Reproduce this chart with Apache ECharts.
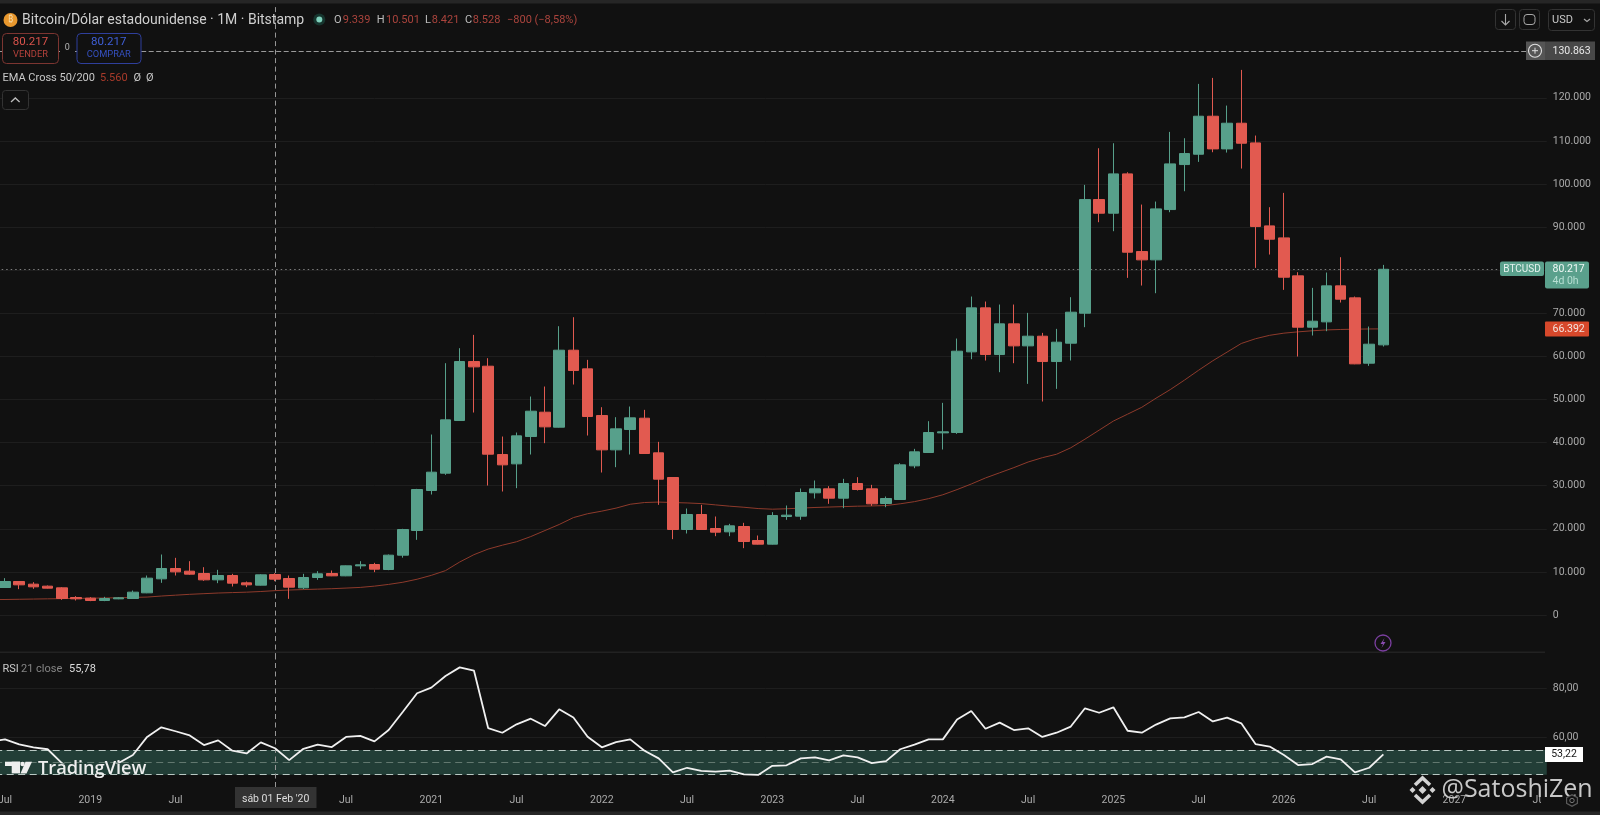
<!DOCTYPE html>
<html><head><meta charset="utf-8">
<style>html,body{margin:0;padding:0;background:#111;overflow:hidden;width:1600px;height:815px;position:relative}#c{position:absolute;left:-17px;top:0;width:1617px;height:815px}</style>
<script src="https://cdn.jsdelivr.net/npm/echarts@6/dist/echarts.min.js"></script>
</head><body><div id="c"></div>
<script>
const categories = ["2018-06",
"2018-07","2018-08","2018-09","2018-10","2018-11","2018-12",
"2019-01","2019-02","2019-03","2019-04","2019-05","2019-06","2019-07","2019-08","2019-09","2019-10","2019-11","2019-12",
"2020-01","2020-02","2020-03","2020-04","2020-05","2020-06","2020-07","2020-08","2020-09","2020-10","2020-11","2020-12",
"2021-01","2021-02","2021-03","2021-04","2021-05","2021-06","2021-07","2021-08","2021-09","2021-10","2021-11","2021-12",
"2022-01","2022-02","2022-03","2022-04","2022-05","2022-06","2022-07","2022-08","2022-09","2022-10","2022-11","2022-12",
"2023-01","2023-02","2023-03","2023-04","2023-05","2023-06","2023-07","2023-08","2023-09","2023-10","2023-11","2023-12",
"2024-01","2024-02","2024-03","2024-04","2024-05","2024-06","2024-07","2024-08","2024-09","2024-10","2024-11","2024-12",
"2025-01","2025-02","2025-03","2025-04","2025-05","2025-06","2025-07","2025-08","2025-09","2025-10","2025-11","2025-12",
"2026-01","2026-02","2026-03","2026-04","2026-05","2026-06","2026-07","2026-08","2026-09","2026-10","2026-11","2026-12",
"2027-01","2027-02","2027-03","2027-04","2027-05","2027-06","2027-07"];
const opens = [null,
6381,7772,7154,6690,6303,4061,3906,3365,3752,3829,
5143,8391,10788,10170,9629,8159,9164,7463,6922,9396,
8469,6303,8701,9629,9087,11407,11716,10556,13881,19606,
28886,32907,45125,58813,57730,37237,35072,41413,47058,43578,
61442,57111,46285,38320,43037,45666,37624,31902,19838,23319,
20071,19297,20534,17286,16436,22855,22932,28345,29273,27107,
30510,29273,25871,26798,34608,37702,42265,42342,61055,71263,
60436,67551,62447,64690,58813,63068,70027,96397,93227,102352,
84335,82401,94077,104517,106914,115730,108152,114106,109544,90288,
87505,78688,66780,68017,76369,73586,58428,62679];
const closes = [null,
7772,7000,6535,6226,3829,3752,3365,3829,3983,5298,
8546,10788,10015,9474,8159,9164,7386,7000,9319,8314,
6458,8701,9551,9087,11407,11639,10634,13881,19838,29118,
33139,45280,58813,57575,37315,34840,41568,47290,43656,61442,
56725,46053,38320,43192,45744,37470,31515,19838,23319,19838,
19219,20689,17054,16436,23086,23164,28422,29273,27107,30510,
29118,25793,27030,34841,37856,42342,42497,61210,71263,60436,
67551,62447,64690,58813,63298,70260,96397,93227,102352,84180,
82401,94232,104672,107069,115730,108152,114106,109466,90134,87195,
78379,66780,68172,76369,73277,58274,62835,80217];
const lows = [null,
6303,5994,6071,6148,3520,3365,3210,3210,3674,3752,
5066,7463,9164,9319,7927,7386,6612,6458,6845,7850,
3752,5994,8159,9010,9010,10711,9938,10402,13300,17441,
27958,32520,45048,46981,30046,28654,29427,37237,39867,43500,
53477,41645,33062,34299,37237,37392,25561,17596,18910,19760,
18291,18291,15508,16358,16358,22081,22081,27030,25793,24788,
28886,25329,25019,26721,34067,37625,38398,42033,59354,59045,
56338,58426,53632,49533,52472,59047,66780,91140,89050,78225,
76446,74667,93459,98330,105136,107378,107301,103589,80545,83637,
75440,59975,64847,65852,72503,58196,57810,62293];
const highs = [null,
8546,7850,7618,6845,6458,4370,4138,4215,4138,5685,
9164,14036,13263,12490,11098,10479,9551,7772,9474,9706,
9164,9551,10170,10324,11485,12490,12103,14036,20000,29272,
41877,58426,61906,64999,59586,41413,42341,50693,53013,67010,
69097,59199,48218,45898,48373,47600,40176,31979,24710,25561,
22853,21153,21385,18446,23860,25406,29350,31206,29893,31593,
31979,30200,27494,35228,38553,44970,49224,64149,73892,72732,
72036,72036,70103,65463,66391,73740,99800,108307,109466,102738,
95237,95933,112095,110626,123231,124623,118204,126479,111245,94619,
97944,79540,75905,79462,83019,73895,66935,81239];
const ema50 = [3570,
3600,3650,3700,3750,3800,3850,3900,3950,4000,4080,
4160,4400,4600,4800,4950,5100,5200,5300,5450,5650,
5800,5900,6000,6100,6250,6400,6700,7100,7600,8300,
9200,10300,12300,14000,15300,16200,17000,18200,19600,21000,
22600,23500,24100,24800,25700,26100,26200,26100,26000,25850,
25550,25250,25000,24700,24550,24650,24800,24950,25050,25150,
25250,25300,25400,25800,26300,27000,27900,29100,30400,31800,
33000,34200,35500,36500,37300,38800,40800,42900,45000,46600,
48200,50300,52300,54500,56800,59000,61000,63000,64100,64900,
65400,65700,65950,66150,66250,66320,66370,66392];
const rsi21 = [58.4,
59.3,57.3,56.1,55.3,49.7,46.2,46.6,47.2,49.7,53.0,
60.3,64.2,62.6,60.9,57.0,58.9,54.7,53.6,58.1,55.7,
50.9,55.5,57.2,56.2,60.3,60.7,58.5,63.1,70.5,78.0,
80.3,85.0,88.5,87.2,63.9,62.0,65.4,67.7,64.7,71.5,
68.2,60.4,56.1,58.2,59.3,54.7,51.6,45.9,47.8,46.5,
46.2,46.6,45.1,44.9,48.6,48.8,51.6,52.0,50.8,52.8,
52.0,49.7,50.5,55.3,57.2,59.3,59.3,67.4,70.8,63.6,
66.1,63.1,63.8,60.3,62.0,64.5,71.9,70.1,72.3,62.8,
62.0,65.3,67.8,68.2,70.4,66.6,68.1,65.8,57.4,56.4,
53.0,48.9,49.3,52.3,51.2,45.9,47.8,53.22];
const priceTicks = [0,10000,20000,30000,40000,50000,60000,70000,80000,90000,100000,110000,120000];
const hiddenPriceLabels = [80000];
const rsiTicks = [60,80];
const rsiBands = {upper:55, middle:50, lower:45};
const lastPrice = 80217, highestPrice = 130863;
const crosshairCategory = "2020-02";

const BG='#111111', UP='#57a08b', DOWN='#e25a50', GRID='#1e1e1e', AXIS='#aaaaaa', BAND='#223e37';
const FONT='Roboto, "Noto Sans", sans-serif';
const thousand = v => String(v).replace(/\B(?=(\d{3})+$)/g,'.');

const lineStyle=(color,type,width)=>({color,type,width:width||1,opacity:1});
const priceMarkers = priceTicks.map(v=>({yAxis:v,lineStyle:lineStyle(GRID,'solid')}));
priceMarkers.push({yAxis:lastPrice,lineStyle:lineStyle('#7d7d7d',[1.5,3])});
priceMarkers.push({yAxis:highestPrice,lineStyle:lineStyle('#9a9a9a',[5,2.5])});
priceMarkers.push({xAxis:crosshairCategory,lineStyle:lineStyle('#969696',[5,3.5])});

// ---- chrome helpers (page coordinates; the canvas starts 17px left of the page) ----
const Z=100, OX=17;
const T=(text,x,y,fill,size,extra)=>({type:'text',z:Z,silent:true,style:{text,x:x+OX,y,fill,
  font:(extra&&extra.weight?extra.weight+' ':'')+size+'px '+(extra&&extra.family||FONT),
  align:(extra&&extra.align)||'left',textAlign:(extra&&extra.align)||'left',verticalAlign:'middle',textVerticalAlign:'middle'}});
const R=(x,y,w,h,fill,stroke,r)=>({type:'rect',z:Z-1,silent:true,shape:{x:x+OX,y,width:w,height:h,r:r||0},style:{fill:fill||'transparent',stroke:stroke||null,lineWidth:1}});
const C=(cx,cy,r,fill,stroke,lw)=>({type:'circle',z:Z,silent:true,shape:{cx:cx+OX,cy,r},style:{fill:fill||'transparent',stroke:stroke||null,lineWidth:lw||1}});
const shift=pts=>pts.map(p=>[p[0]+OX,p[1]]);
const P=(points,fill)=>({type:'polygon',z:Z,silent:true,shape:{points:shift(points)},style:{fill}});
const L=(points,stroke,lw)=>({type:'polyline',z:Z,silent:true,shape:{points:shift(points)},style:{stroke,lineWidth:lw,fill:'none'}});

const RED='#ab443d', OHL='#bdbdbd', TS=10.5;
const chrome=[
 R(0,0,1600,3.5,'#262626'), R(0,811.5,1600,3.5,'#262626'), R(1541,787,59,24,BG),
 R(0,651.5,1545,1.5,'#222222'),
 // header
 C(10.5,20,7,'#e8982e'), T('₿',10.5,20,'#f7d9a6',9,{align:'center'}),
 T('Bitcoin/Dólar estadounidense · 1M · Bitstamp',22,20,'#cfcfcf',14),
 C(319.3,19.5,6,'#16352e'), C(319.3,19.5,3,'#7fd0bc'),
 T('O',334,20,OHL,11), T('9.339',342.7,20,RED,11),
 T('H',376.7,20,OHL,11), T('10.501',386,20,RED,11),
 T('L',425,20,OHL,11), T('8.421',431.7,20,RED,11),
 T('C',465,20,OHL,11), T('8.528',472.7,20,RED,11),
 T('−800 (−8,58%)',507,20,RED,11),
 // order buttons
 R(2.5,33.5,56,30,BG,'#7c3531',4), T('80.217',30.5,42,'#d9534c',11.5,{align:'center'}), T('VENDER',30.5,55,'#b5423c',9.3,{align:'center'}),
 R(60,43,15,14,BG), T('0',67.3,48,'#b5b5b5',9,{align:'center'}),
 R(77,33.5,64,30,BG,'#2f3f9c',4), T('80.217',108.7,42,'#3f5fd8',11.5,{align:'center'}), T('COMPRAR',108.7,55,'#3550c0',9.3,{align:'center'}),
 // indicator legend
 T('EMA Cross 50/200',2.5,78,'#c9c9c9',11), T('5.560',100,78,'#a83a2a',11), T('Ø',133.5,78,'#c9c9c9',11), T('Ø',146,78,'#c9c9c9',11),
 R(2.5,90.5,26,19,BG,'#333333',3), L([[11,102],[15.3,98],[19.6,102]],'#bdbdbd',1.3),
 // toolbar
 R(1495.5,9.5,20,20,BG,'#333333',3), L([[1505.5,14],[1505.5,25]],'#a8a8a8',1.1), L([[1501.5,21],[1505.5,25],[1509.5,21]],'#a8a8a8',1.1),
 R(1519.5,9.5,20,20,BG,'#333333',3), R(1524,14.5,11,10,'transparent','#a8a8a8',3),
 R(1548.5,9.5,46,21,BG,'#333333',3), T('USD',1552,20,'#c9c9c9',11), L([[1584,19],[1587,21.5],[1590,19]],'#a8a8a8',1.2),
 // high tag
 R(1526,41.5,19,18.5,'#555555'), C(1535,50.7,6.5,null,'#e0e0e0',1.1), L([[1532,50.7],[1538,50.7]],'#e0e0e0',1), L([[1535,47.7],[1535,53.7]],'#e0e0e0',1),
 R(1545,41.5,50,18.5,'#484848'), T(thousand(highestPrice),1552.5,51,'#e8e8e8',TS),
 // last price tags
 R(1500,261.5,44,14.5,'#5aa08c',null,2), T('BTCUSD',1522,269,'#e6f3ef',10,{align:'center'}),
 R(1545,261.5,44,27,'#5aa08c',null,2), T(thousand(lastPrice),1552.5,269,'#f0f8f5',TS), T('4d 0h',1552.5,281.5,'#b7dfd3',TS),
 // EMA tag
 R(1545,321.5,44,15,'#d6482b',null,1), T(thousand(ema50[ema50.length-1]),1552.5,329.3,'#f3e3de',TS),
 // lightning
 C(1383,643,8,null,'#7b3fa0',1.3), P([[1384.5,638],[1380.5,644],[1383,644],[1381.5,648],[1385.5,642],[1383,642]],'#8a4cb0'),
 // RSI legend
 T('RSI',2.5,669.5,'#c9c9c9',11), T('21 close',21,669.5,'#858585',11), T('55,78',69,669.5,'#dcdcdc',11),
 // RSI value tag
 R(1545,747,38,15,'#ffffff'), T('53,22',1564,754.7,'#161616',TS,{align:'center'}),
 // crosshair date tag
 R(235,787,81.5,21,'#333333'), T("sáb 01 Feb '20",275.7,799.5,'#dedede',TS,{align:'center'}),
 // TradingView logo (sits over the indicator line)
 R(61,763.5,59,10.5,BAND),
 R(5,761.7,15,4.3,'#eeeeee'), R(11.7,761.7,8.3,11.7,'#eeeeee'), C(22.5,764,2.2,'#eeeeee'),
 P([[25.5,761.7],[32,761.7],[26.5,773.4],[20.5,773.4]],'#eeeeee'),
 T('TradingView',38,768.5,'#eeeeee',18.2,{weight:600,family:'"Open Sans", sans-serif'}),
 // watermark
 L([[1415,785],[1422.5,778],[1430,785]],'#d2d2d2',3.6), L([[1415,795],[1422.5,802],[1430,795]],'#d2d2d2',3.6),
 P([[1422.5,786],[1426.5,790],[1422.5,794],[1418.5,790]],'#d2d2d2'),
 P([[1412.5,787],[1415.5,790],[1412.5,793],[1409.5,790]],'#d2d2d2'),
 P([[1432.5,787],[1435.5,790],[1432.5,793],[1429.5,790]],'#d2d2d2'),
 T('@SatoshiZen',1441.5,789.5,'#c8c8c8',25,{family:'"Open Sans", sans-serif'}),
 // settings hex
 P([[1572,794],[1578,797.2],[1578,803.8],[1572,807],[1566,803.8],[1566,797.2]],'#5a5a5a'),
 P([[1572,795.4],[1576.8,798],[1576.8,803],[1572,805.6],[1567.2,803],[1567.2,798]],BG),
 C(1572,800.5,2.2,null,'#777777',1)
];

const chart=echarts.init(document.getElementById('c'),null,{renderer:'canvas'});
const gridLeft=0.69, gridWidth=1563.1;
chart.setOption({
 animation:false, backgroundColor:BG,
 textStyle:{fontFamily:FONT},
 grid:[
  {left:gridLeft,width:gridWidth,top:5.6,height:652.5},
  {left:gridLeft,width:gridWidth,top:653.8,height:133.2}
 ],
 xAxis:[
  {type:'category',gridIndex:0,data:categories,axisLine:{show:false},axisTick:{show:false},axisLabel:{show:false},splitLine:{show:false}},
  {type:'category',gridIndex:1,data:categories,axisLine:{show:false},axisTick:{show:false},splitLine:{show:false},
   axisLabel:{interval:0,margin:8,color:AXIS,fontSize:TS,fontFamily:FONT,hideOverlap:false,
    formatter:v=>{const [y,m]=v.split('-');return m==='01'?y:(m==='07'?'Jul':'');}}}
 ],
 yAxis:[
  {type:'value',gridIndex:0,position:'right',min:-10000,max:141400,interval:10000,axisLine:{show:false},axisTick:{show:false},splitLine:{show:false},
   axisLabel:{margin:6,color:AXIS,fontSize:TS,fontFamily:FONT,align:'left',
    formatter:v=>(priceTicks.includes(v)&&!hiddenPriceLabels.includes(v))?thousand(v):''}},
  {type:'value',gridIndex:1,position:'right',min:40,max:94,interval:20,axisLine:{show:false},axisTick:{show:false},
   splitLine:{show:true,showMinLine:false,showMaxLine:false,lineStyle:{color:GRID}},
   axisLabel:{margin:6,color:AXIS,fontSize:TS,fontFamily:FONT,align:'left',
    formatter:v=>rsiTicks.includes(v)?v+',00':''}}
 ],
 series:[
  {name:'BTCUSD',type:'candlestick',xAxisIndex:0,yAxisIndex:0,barWidth:11,z:2,
   data:opens.map((o,i)=>o===null?['-','-','-','-']:[o,closes[i],lows[i],highs[i]]),
   itemStyle:{color:UP,color0:DOWN,borderColor:UP,borderColor0:DOWN,borderWidth:1}},
  {name:'EMA 50',type:'line',xAxisIndex:0,yAxisIndex:0,data:ema50,showSymbol:false,symbol:'none',smooth:false,z:1,
   lineStyle:{color:'#8e3a2b',width:1},
   markLine:{z:1,silent:true,symbol:'none',label:{show:false},animation:false,data:priceMarkers}},
  {name:'RSI 21',type:'line',xAxisIndex:1,yAxisIndex:1,data:rsi21,showSymbol:false,symbol:'none',z:3,
   lineStyle:{color:'#f0f0f0',width:1.8},
   markArea:{z:1,silent:true,animation:false,itemStyle:{color:BAND,opacity:1},label:{show:false},
     data:[[{yAxis:rsiBands.lower},{yAxis:rsiBands.upper}]]},
   markLine:{z:2,silent:true,symbol:'none',label:{show:false},animation:false,data:[
     {yAxis:rsiBands.upper,lineStyle:lineStyle('#b8c8c3',[7,4.5])},
     {yAxis:rsiBands.middle,lineStyle:lineStyle('#62786f',[7,4.5])},
     {yAxis:rsiBands.lower,lineStyle:lineStyle('#b8c8c3',[7,4.5])},
     {xAxis:crosshairCategory,lineStyle:lineStyle('#969696',[5,3.5])}
   ]}}
 ],
 graphic:{elements:chrome}
});
</script></body></html>
